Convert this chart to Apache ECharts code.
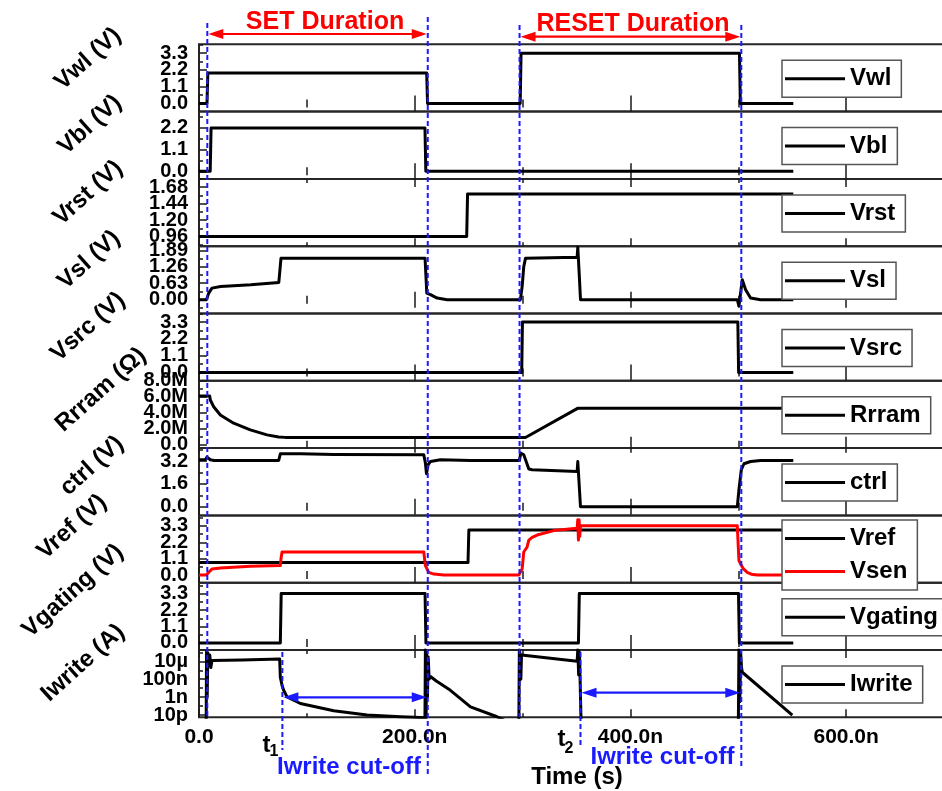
<!DOCTYPE html>
<html>
<head>
<meta charset="utf-8">
<script src="https://cdn.jsdelivr.net/npm/echarts@6/dist/echarts.min.js"></script>
<style>
  html, body { margin: 0; padding: 0; background: #fff; }
  #chart { width: 942px; height: 791px; }
</style>
</head>
<body>
<div id="chart"></div>
<script>
// ---- Waveforms: [time (ns), value] ----
const vwl = [[0,0],[7.4,0],[8.2,2.0],[211.1,2.0],[211.9,0],[297.8,0],[298.6,3.3],[501.1,3.3],[501.9,0],[551,0]];
const vbl = [[0,0],[10.4,0],[11.2,2.2],[209.5,2.2],[210.3,0],[551,0]];
const vrst = [[0,0.96],[248.2,0.96],[249,1.58],[551,1.58]];
const vsl = [[0,0],[7,0],[7.6,0.06],[9,0.25],[12,0.44],[20,0.5],[48,0.57],[74,0.66],[75,0.7],[76,1.58],
  [209.6,1.58],[211.2,0.25],[214.6,0.19],[220.8,0.06],[230,0],[298,0],[298.3,0.06],[299.6,0.5],[301.1,1.26],
  [302.7,1.58],[350.6,1.62],[351.2,2.0],[352.5,1.0],[353.7,0],[499.1,0],[500.6,-0.25],[503.7,0.76],
  [506.8,0.38],[511.4,0.06],[520.7,0],[551,0]];
const vsrc = [[0,0],[299.2,0],[299.9,3.3],[499.6,3.3],[500.3,0],[551,0]];
const rrram = [[0,6.1e6],[9.9,6.1e6],[10.5,5.6e6],[13.6,4.76e6],[19.8,3.73e6],[32.1,2.7e6],[47.6,1.87e6],
  [63,1.24e6],[73.9,0.99e6],[80,0.93e6],[94,0.91e6],[302.7,0.91e6],[351,4.56e6],[551,4.56e6]];
const ctrl = [[0,3.3],[5.8,3.3],[7.4,3.49],[10.5,3.3],[14,3.25],[73.9,3.25],[75.4,3.72],[77,3.81],[94,3.72],
  [124.9,3.67],[208.4,3.65],[209.9,3.07],[210.9,2.32],[212.4,2.95],[214.6,3.18],[223.8,3.3],[251.7,3.25],
  [297.1,3.25],[298.3,3.77],[301.1,3.65],[305.8,2.65],[308.9,2.6],[350.6,2.48],[351.2,3.18],[353.7,0],
  [499.1,0],[500.6,1.19],[502.8,2.6],[505.3,3.02],[511.4,3.18],[520.7,3.25],[551,3.25]];
const vref = [[0,0.84],[249.4,0.84],[250.2,3.03],[551,3.03]];
const vsen = [[0,0],[6.5,0],[8.9,0.18],[12,0.41],[19.8,0.48],[47.6,0.59],[75.4,0.64],[76.2,1.2],[77,1.55],
  [208.4,1.55],[209.9,0.64],[213,0.18],[217.7,0.07],[226.9,0],[296.5,0],[298.1,0.07],[299.6,0.41],
  [301.1,1.55],[304.2,1.89],[305.8,2.35],[308.9,2.53],[313.5,2.69],[329,2.99],[350.6,3.15],[351.2,3.72],
  [351.8,2.35],[352.4,3.72],[353,2.6],[353.7,3.31],[499.1,3.31],[500.6,0.98],[502.1,0.75],[505,0.4],
  [508.3,0.18],[512,0.06],[517.6,0],[551,0]];
const vgating = [[0,0],[75.4,0],[76.2,3.3],[209.6,3.3],[210.4,0],[351.8,0],[352.6,3.3],[500.2,3.3],[501,0],[551,0]];
// write current in amperes (log axis)
const iwrite = [[0,1e-13],[6.6,1e-13],[7.0,1.2e-4],[7.6,1e-9],[8.2,9e-5],[9.0,3e-6],[10.0,5e-5],[11.0,2e-6],
  [12,1.2e-5],[40,1.4e-5],[74.8,1.8e-5],[75.4,1.7e-7],[77,2.0e-8],[78.5,5.8e-9],[81.6,1.05e-9],[94,1.95e-10],
  [124.9,3.0e-11],[155.8,1e-11],[186.7,6.5e-12],[199.1,5.6e-12],[209.5,5e-12],[209.9,2e-4],[210.5,1e-12],
  [211.1,8e-5],[211.8,1e-9],[212.5,3e-5],[213.4,1e-7],[214.6,2e-7],[220,6.3e-8],[233.1,5.8e-9],
  [251.7,8.3e-11],[276.4,6.5e-12],[285,2e-12],[296.5,1e-13],[297,2e-4],[297.6,6.6e-5],[298.4,1e-7],
  [299,5e-5],[299.6,4.3e-5],[350.6,1.0e-5],[351.2,2e-4],[352,3e-7],[352.8,1e-4],[353.7,1e-9],[354.5,1e-13],
  [500,1e-13],[500.6,2e-4],[501.4,3e-10],[502.2,8e-5],[503,2e-6],[503.7,6e-7],[550.1,1e-11]];

// ---- Axis tick values ----
const vTicks = [0, 1.1, 2.2, 3.3];
const vblTicks = [0, 1.1, 2.2];
const vrstTicks = [0.96, 1.20, 1.44, 1.68];
const vslTicks = [0, 0.63, 1.26, 1.89];
const rrramTicks = [0, 2e6, 4e6, 6e6, 8e6];
const ctrlTicks = [0, 1.6, 3.2];
const iwriteTicks = [1e-11, 1e-9, 1e-7, 1e-5];
const iwriteTickLabels = ['10p', '1n', '100n', '10µ'];

// ---- Event times (ns) ----
const setStart = 7.7, setEnd = 212.1, resetStart = 297.2, resetEnd = 502.8, t1 = 77.3, t2 = 353.7;

// ---- Layout ----
const FONT = '"Liberation Sans", Arial, Helvetica, sans-serif';
const PLOT_TOP = 44.3, PANEL_H = 67.3, PLOT_LEFT = 199, PLOT_RIGHT = -12;
const X_MAX = 700;
const BLUE = '#1a1aff', RED = '#ff0000', INK = '#000';

const log10 = v => Math.log10(v);
const fixed = d => v => v.toFixed(d);

const panels = [
  { title: 'Vwl (V)', lines: [['Vwl', vwl, INK]], range: [-0.53, 3.88], ticks: vTicks, fmt: fixed(1), tc: [88, 59] },
  { title: 'Vbl (V)', lines: [['Vbl', vbl, INK]], range: [-0.385, 3.03], ticks: vblTicks, fmt: fixed(1), tc: [90, 125] },
  { title: 'Vrst (V)', lines: [['Vrst', vrst, INK]], range: [0.82, 1.80], ticks: vrstTicks, fmt: fixed(2), tc: [88, 193] },
  { title: 'Vsl (V)', lines: [['Vsl', vsl, INK]], range: [-0.53, 2.045], ticks: vslTicks, fmt: fixed(2), tc: [89, 260] },
  { title: 'Vsrc (V)', lines: [['Vsrc', vsrc, INK]], range: [-0.54, 3.86], ticks: vTicks, fmt: fixed(1), tc: [88, 327] },
  { title: 'Rrram (Ω)', lines: [['Rrram', rrram, INK]], range: [-0.41e6, 8.0e6], ticks: rrramTicks,
    fmt: v => v === 0 ? '0.0' : (v / 1e6).toFixed(1) + 'M', tc: [101, 390] },
  { title: 'ctrl (V)', lines: [['ctrl', ctrl, INK]], range: [-0.61, 4.12], ticks: ctrlTicks, fmt: fixed(1), tc: [92, 466] },
  { title: 'Vref (V)', lines: [['Vref', vref, INK], ['Vsen', vsen, RED]], range: [-0.51, 4.01], ticks: vTicks,
    fmt: fixed(1), tc: [72, 527], legendOffset: 4.6 },
  { title: 'Vgating (V)', lines: [['Vgating', vgating, INK]], range: [-0.47, 4.03], ticks: vTicks, fmt: fixed(1), tc: [73, 591] },
  { title: 'Iwrite (A)', lines: [['Iwrite', iwrite.map(([t, a]) => [t, log10(a)]), INK]],
    range: [-11.25, -3.74], ticks: iwriteTicks.map(log10),
    fmt: v => iwriteTickLabels[iwriteTicks.findIndex(a => Math.round(log10(a)) === Math.round(v))], tc: [83, 663] }
];

// minor ticks halfway between labelled ticks
function minorOf(ticks, lo, hi) {
  const step = ticks[1] - ticks[0];
  const out = [];
  for (let v = ticks[0] - step / 2; v <= hi; v += step) if (v >= lo) out.push(v);
  return out;
}

const grids = [], xBottom = [], xTop = [], yMajor = [], yMinor = [], series = [], legends = [];
const tickLine = { color: '#1a1a1a', width: 1.5 };

panels.forEach((p, i) => {
  const top = PLOT_TOP + i * PANEL_H;
  grids.push({
    left: PLOT_LEFT, right: PLOT_RIGHT, top: top, height: PANEL_H,
    show: true, borderColor: '#262626', borderWidth: 2, backgroundColor: 'transparent',
    containLabel: false, outerBoundsMode: 'none'
  });
  const xCommon = {
    gridIndex: i, type: 'value', min: 0, max: X_MAX, interval: 200,
    axisLine: { show: false }, splitLine: { show: false },
    axisTick: { show: true, inside: true, length: 8, lineStyle: tickLine },
    minorTick: { show: true, splitNumber: 2, length: 4, lineStyle: tickLine },
    minorSplitLine: { show: false }
  };
  xBottom.push(Object.assign({}, xCommon, {
    position: 'bottom',
    axisLabel: {
      show: i === panels.length - 1, showMaxLabel: false, margin: 9,
      fontSize: 21, fontWeight: 'bold', color: INK, fontFamily: FONT,
      formatter: v => v === 0 ? '0.0' : v.toFixed(1) + 'n'
    }
  }));
  xTop.push(Object.assign({}, xCommon, { position: 'top', axisLabel: { show: false } }));

  const [lo, hi] = p.range;
  // labels are split over two coincident axes (alternating) so that tightly
  // packed tick labels all stay visible
  const evenTicks = p.ticks.filter((_, k) => k % 2 === 0);
  const oddTicks = p.ticks.filter((_, k) => k % 2 === 1);
  const yLabel = (vals) => ({
    customValues: vals, formatter: p.fmt, margin: 11,
    showMinLabel: true, showMaxLabel: true, hideOverlap: false,
    fontSize: 20, fontWeight: 'bold', color: INK, fontFamily: FONT
  });
  yMajor.push({
    gridIndex: i, type: 'value', position: 'left', min: lo, max: hi,
    axisLine: { show: false }, splitLine: { show: false },
    axisTick: { show: true, inside: true, length: 8, lineStyle: tickLine, customValues: p.ticks },
    axisLabel: yLabel(evenTicks)
  });
  yMinor.push({
    gridIndex: i, type: 'value', position: 'left', min: lo, max: hi,
    axisLine: { show: false }, splitLine: { show: false },
    axisTick: { show: true, inside: true, length: 4, lineStyle: tickLine, customValues: minorOf(p.ticks, lo, hi) },
    axisLabel: yLabel(oddTicks)
  });

  p.lines.forEach(([name, data, color]) => {
    series.push({
      type: 'line', name: name, xAxisIndex: i, yAxisIndex: i, data: data,
      symbol: 'none', clip: true, animation: false, z: 3,
      lineStyle: { width: 3, color: color, join: 'round' }, itemStyle: { color: color }
    });
  });

  legends.push({
    data: p.lines.map(l => l[0]),
    left: 782, top: top + (p.legendOffset !== undefined ? p.legendOffset : 16),
    orient: 'vertical', icon: 'rect', itemWidth: 60, itemHeight: 3, itemGap: 9,
    padding: [6.5, 10, 6.5, 3],
    backgroundColor: '#fff', borderColor: '#555', borderWidth: 1.5, borderRadius: 0,
    selectedMode: false, z: 6,
    textStyle: { fontSize: 24, fontWeight: 'bold', color: INK, fontFamily: FONT }
  });
});

const option = {
  backgroundColor: '#fff',
  animation: false,
  textStyle: { fontFamily: FONT },
  grid: grids,
  xAxis: xBottom.concat(xTop),
  yAxis: yMajor.concat(yMinor),
  legend: legends,
  series: series
};

const chart = echarts.init(document.getElementById('chart'));
chart.setOption(option);

// ---- Annotations placed on the shared time axis ----
const px = t => chart.convertToPixel({ xAxisIndex: 0 }, t);
const g = [];
function vdash(t, y1, y2) {
  const x = px(t);
  g.push({ type: 'line', silent: true, z: 20, shape: { x1: x, y1: y1, x2: x, y2: y2 },
    style: { stroke: BLUE, lineWidth: 2, lineDash: [5, 3] } });
}
function arrow(ta, tb, y, color, inset) {
  const xa = px(ta) + inset, xb = px(tb) - inset, L = 15, H = 5;
  g.push({ type: 'line', silent: true, z: 20, shape: { x1: xa + 6, y1: y, x2: xb - 6, y2: y },
    style: { stroke: color, lineWidth: 2.2 } });
  g.push({ type: 'polygon', silent: true, z: 20, shape: { points: [[xa, y], [xa + L, y - H], [xa + L, y + H]] },
    style: { fill: color } });
  g.push({ type: 'polygon', silent: true, z: 20, shape: { points: [[xb, y], [xb - L, y - H], [xb - L, y + H]] },
    style: { fill: color } });
}
function label(text, x, y, size, color, rot) {
  g.push({ type: 'text', silent: true, z: 21, x: x, y: y, rotation: (rot || 0) * Math.PI / 180,
    style: { text: text, fill: color, fontSize: size, fontWeight: 'bold', fontFamily: FONT,
      align: 'center', verticalAlign: 'middle' } });
}

vdash(setStart, 23, 717);
vdash(setEnd, 17, 776);
vdash(resetStart, 25, 717);
vdash(resetEnd, 25, 767);
vdash(t1, 652, 750);
vdash(t2, 652, 747);

arrow(setStart, setEnd, 34, RED, 1);
arrow(resetStart, resetEnd, 36.7, RED, 1);
arrow(t1, setEnd, 697.3, BLUE, 1);
arrow(t2, resetEnd, 692.7, BLUE, 1);

label('SET Duration', 325, 22.5, 25, RED);
label('RESET Duration', 633, 24, 25, RED);
label('Iwrite cut-off', 349, 767, 24, BLUE);
label('Iwrite cut-off', 662.5, 757, 24, BLUE);
label('Time (s)', 577, 777, 24, INK);
label('t', px(t1) - 16, 745, 24, INK);
label('1', px(t1) - 8.5, 752, 16, INK);
label('t', px(t2) - 19, 739, 24, INK);
label('2', px(t2) - 11.5, 749, 16, INK);

panels.forEach(p => label(p.title, p.tc[0], p.tc[1], 24, INK, 42));

chart.setOption({ graphic: g });
</script>
</body>
</html>
